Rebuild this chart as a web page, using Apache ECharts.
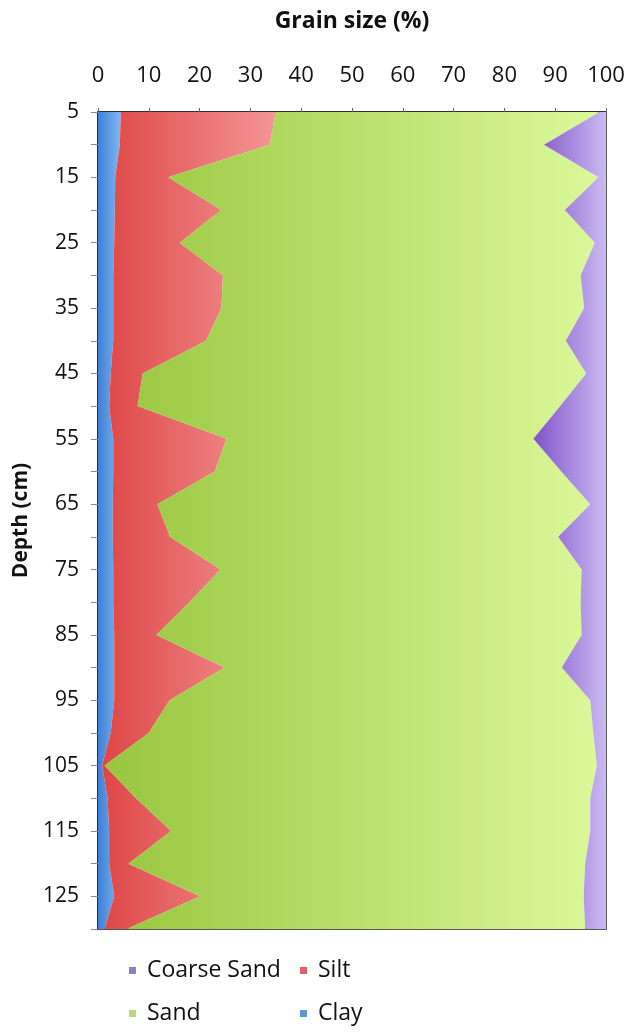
<!DOCTYPE html>
<html>
<head>
<meta charset="utf-8">
<script src="https://cdn.jsdelivr.net/npm/echarts@6/dist/echarts.min.js"></script>
<style>
  html, body { margin: 0; padding: 0; background: #ffffff; }
  #chart { width: 630px; height: 1032px; }
</style>
</head>
<body>
<div id="chart"></div>
<script>
// Sampling depths (cm), every 5 cm down the core
const depths = ['5','10','15','20','25','30','35','40','45','50','55','60','65',
                '70','75','80','85','90','95','100','105','110','115','120','125','130'];

// Grain-size fractions (%) at each depth
const clay = [4.5, 4.3, 3.4, 3.3, 3.2, 3.0, 3.0, 3.0, 2.5, 2.2, 3.0, 3.0, 2.9,
              2.9, 3.0, 3.0, 3.2, 3.2, 3.2, 2.5, 0.8, 1.9, 2.2, 2.2, 3.2, 1.3];
const silt = [30.5, 29.5, 10.4, 21.0, 12.9, 21.6, 21.3, 18.3, 6.3, 5.6, 22.3, 20.0, 8.8,
              11.3, 21.1, 15.0, 8.3, 21.7, 10.9, 7.5, 0.5, 5.6, 12.2, 3.8, 16.9, 4.4];
const sand = [63.7, 54.0, 84.7, 67.6, 81.7, 70.4, 71.4, 70.8, 87.3, 83.2, 60.4, 68.2, 85.2,
              76.4, 71.1, 77.0, 83.7, 66.4, 82.8, 87.5, 96.9, 89.4, 82.5, 89.9, 75.5, 90.2];
const coarseSand = [1.3, 12.2, 1.5, 8.1, 2.2, 5.0, 4.3, 7.9, 3.9, 9.0, 14.3, 8.8, 3.1,
                    9.4, 4.8, 5.0, 4.8, 8.7, 3.1, 2.5, 1.8, 3.1, 3.1, 4.1, 4.4, 4.1];

// Grain-size axis ticks
const xMin = 0, xMax = 100, xStep = 10;

const FONT = '"Open Sans", "DejaVu Sans", sans-serif';

function hGrad(c0, c1) {
  return new echarts.graphic.LinearGradient(0, 0, 1, 0, [
    { offset: 0, color: c0 }, { offset: 1, color: c1 }
  ]);
}

function layer(name, values, c0, c1) {
  return {
    name: name,
    type: 'line',
    stack: 'grain',
    data: values,
    symbol: 'none',
    smooth: false,
    lineStyle: { width: 0 },
    areaStyle: { color: hGrad(c0, c1), opacity: 1 },
    emphasis: { disabled: true },
    animation: false
  };
}

function legendItem(name, color, left, top) {
  return {
    data: [{ name: name, itemStyle: { color: color } }],
    left: left, top: top,
    icon: 'rect', itemWidth: 7, itemHeight: 7,
    textStyle: { fontFamily: FONT, fontSize: 23, color: '#111', padding: [0, 0, 0, 6] },
    selectedMode: false
  };
}

const chart = echarts.init(document.getElementById('chart'), null, { renderer: 'canvas' });

chart.setOption({
  backgroundColor: '#ffffff',
  animation: false,
  grid: {
    left: 98, right: 24, top: 112, bottom: 103,
    show: true, borderColor: '#222', borderWidth: 1.5,
    containLabel: false
  },
  xAxis: {
    type: 'value',
    position: 'top',
    min: xMin, max: xMax, interval: xStep,
    name: 'Grain size (%)',
    nameLocation: 'middle',
    nameGap: 79,
    nameTextStyle: { fontFamily: FONT, fontSize: 23, fontWeight: 'bold', color: '#111' },
    axisLine: { show: true, lineStyle: { color: '#222', width: 1.5 } },
    axisTick: { show: true, length: 4, lineStyle: { color: '#666' } },
    axisLabel: { fontFamily: FONT, fontSize: 22, color: '#111', margin: 25 },
    splitLine: { show: false }
  },
  yAxis: {
    type: 'category',
    data: depths,
    inverse: true,
    boundaryGap: false,
    name: 'Depth (cm)',
    nameLocation: 'middle',
    nameGap: 66,
    nameRotate: 90,
    nameTextStyle: { fontFamily: FONT, fontSize: 21, fontWeight: 'bold', color: '#111' },
    axisLine: { show: true, lineStyle: { color: '#222', width: 1.5 } },
    axisTick: { show: true, interval: 0, length: 7, lineStyle: { color: '#888' } },
    axisLabel: { interval: 1, fontFamily: FONT, fontSize: 21, color: '#111', margin: 19 },
    splitLine: { show: false }
  },
  legend: [
    legendItem('Coarse Sand', '#8c80c4', 124, 954),
    legendItem('Silt', '#e0606c', 295, 954),
    legendItem('Sand', '#b8d87c', 124, 997),
    legendItem('Clay', '#5a98d8', 295, 997)
  ],
  series: [
    layer('Clay', clay, '#3f7fd6', '#7fb8f2'),
    layer('Silt', silt, '#de4646', '#f49696'),
    layer('Sand', sand, '#98c63e', '#dcf89a'),
    layer('Coarse Sand', coarseSand, '#8052c8', '#cbbaf2')
  ]
});
</script>
</body>
</html>
